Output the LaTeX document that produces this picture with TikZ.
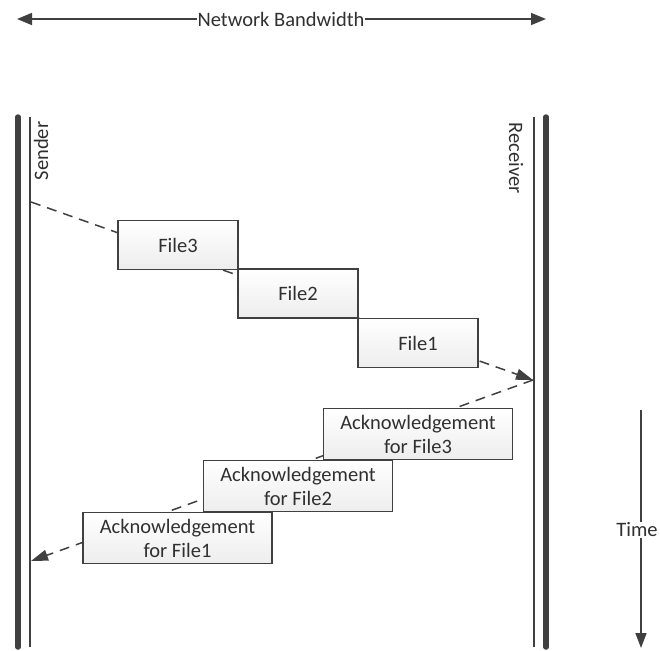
\documentclass[tikz,border=0pt]{standalone}
\usepackage{fontspec}
\setmainfont{Carlito}
\usetikzlibrary{arrows.meta}
\definecolor{ln}{HTML}{404040}
\definecolor{tx}{HTML}{303030}
\begin{document}
\begin{tikzpicture}[x=1pt,y=-1pt,
  every node/.style={font=\fontsize{20.5}{24}\selectfont, text=tx},
  lbl/.style={fill=white, inner sep=1pt},
  filebox/.style={draw=ln, line width=1.7pt, top color=white, bottom color=gray!14,
     minimum width=120pt, minimum height=49pt, inner sep=0pt},
  ackbox/.style={draw=ln, line width=1.7pt, top color=white, bottom color=gray!14,
     minimum width=189pt, minimum height=51pt, inner sep=0pt, align=center},
  thickln/.style={draw=ln, line width=5.5pt, line cap=round},
  thinln/.style={draw=ln, line width=2pt},
  msg/.style={draw=ln, line width=1.5pt, dash pattern=on 10pt off 7pt, -{Triangle[length=17pt,width=11pt]}},
  tip/.style={draw=ln, line width=1.6pt, {Triangle[length=15pt,width=12pt]}-{Triangle[length=15pt,width=12pt]}}
]
\useasboundingbox (0,0) rectangle (660,650);

% top bandwidth arrow
\coordinate (bwL) at (17,19);
\coordinate (bwR) at (546,19);
\draw[tip] (bwL) -- (bwR);
\node[lbl] (bw) at (281,19) {Network Bandwidth};

% sender lifelines
\coordinate (sT1) at (18,117); \coordinate (sB1) at (18,647);
\coordinate (sT2) at (30,117); \coordinate (sB2) at (30,647);
\draw[thickln] (sT1) -- (sB1);
\draw[thinln] (sT2) -- (sB2);
\node[rotate=90] (sender) at (41,151) {Sender};

% receiver lifelines
\coordinate (rT1) at (546,117); \coordinate (rB1) at (546,647);
\coordinate (rT2) at (534,117); \coordinate (rB2) at (534,647);
\draw[thickln] (rT1) -- (rB1);
\draw[thinln] (rT2) -- (rB2);
\node[rotate=-90] (receiver) at (516,158) {Receiver};

% messages
\coordinate (s1) at (31,202);
\coordinate (r1) at (533,380);
\coordinate (s2) at (31,561);
\draw[msg] (s1) -- (r1);
\draw[msg] (r1) -- (s2);

% file boxes
\node[filebox] (f3) at (178,245) {File3};
\node[filebox] (f2) at (298,293.5) {File2};
\node[filebox] (f1) at (418,343) {File1};

% acknowledgement boxes
\node[ackbox] (a3) at (418,434) {Acknowledgement\\for File3};
\node[ackbox] (a2) at (298,486) {Acknowledgement\\for File2};
\node[ackbox] (a1) at (177.5,538) {Acknowledgement\\for File1};

% time arrow
\coordinate (tT) at (641,410);
\coordinate (tB) at (641,648);
\draw[draw=ln, line width=1.6pt, -{Triangle[length=15pt,width=11pt]}] (tT) -- (tB);
\node[lbl, inner sep=0.5pt] (time) at (637,530) {Time};
\end{tikzpicture}
\end{document}
